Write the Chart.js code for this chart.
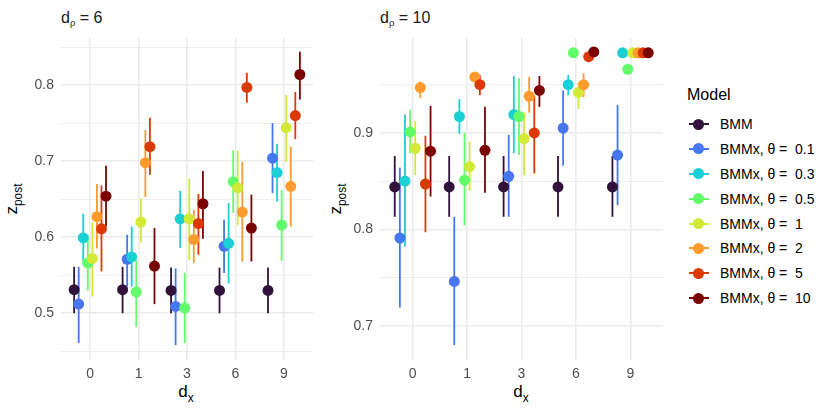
<!DOCTYPE html>
<html>
<head>
<meta charset="utf-8">
<script src="https://cdn.jsdelivr.net/npm/chart.js@4"></script>
<style>
  html, body { margin: 0; padding: 0; background: #fff; }
  body { width: 830px; height: 415px; position: relative; overflow: hidden;
         font-family: "Liberation Sans", Arial, sans-serif; }
  canvas { position: absolute; }
  .strip { position: absolute; font-size: 16px; color: #1A1A1A; line-height: 1; white-space: nowrap; }
  .strip sub { font-size: 0.6em; vertical-align: -0.3em; }
  .ytitle, .xtitle { position: absolute; font-size: 17px; color: #000; line-height: 1; white-space: nowrap; }
  .ytitle { transform: translate(-50%, -50%) rotate(-90deg); }
  .xtitle { transform: translate(-50%, -50%); }
  sub { font-size: 0.7em; vertical-align: -0.35em; }
  .legend { position: absolute; left: 687px; top: 86px; }
  .legend .title { font-size: 16px; color: #000; margin-bottom: 8px; }
  .legend .item { position: relative; height: 24.9px; font-size: 14px; color: #000; white-space: pre; }
  .legend .key { position: absolute; left: 2px; top: 11px; width: 20px; height: 2px; }
  .legend .dot { position: absolute; left: 6px; top: 6.5px; width: 11px; height: 11px; border-radius: 50%; }
  .legend .lab { position: absolute; left: 33px; top: 4px; }
</style>
</head>
<body>

<div class="strip" style="left:61px; top:10px;">d<sub>ρ</sub> = 6</div>
<div class="strip" style="left:380px; top:10px;">d<sub>ρ</sub> = 10</div>
<div class="ytitle" style="left:14px; top:199px;">z<sub>post</sub></div>
<div class="ytitle" style="left:338px; top:199px;">z<sub>post</sub></div>
<div class="xtitle" style="left:186px; top:394px;">d<sub>x</sub></div>
<div class="xtitle" style="left:521px; top:394px;">d<sub>x</sub></div>

<canvas id="panel6" width="293" height="390" style="left:20px; top:0;"></canvas>
<canvas id="panel10" width="323" height="390" style="left:340px; top:0;"></canvas>

<div class="legend" id="legend"></div>

<script>
/* ── data ── */
const xLabels = ['0', '1', '3', '6', '9'];
const models  = ['BMM', 'BMMx, θ =  0.1', 'BMMx, θ =  0.3', 'BMMx, θ =  0.5',
                 'BMMx, θ =  1', 'BMMx, θ =  2', 'BMMx, θ =  5', 'BMMx, θ =  10'];
const colors  = ['#30123B', '#4777EF', '#1BD0D5', '#62FC6B', '#D2E935', '#FE9B2D', '#DB3A07', '#7A0403'];

const yGrid6  = [0.45, 0.5, 0.55, 0.6, 0.65, 0.7, 0.75, 0.8, 0.85];
const yGrid10 = [0.7, 0.75, 0.8, 0.85, 0.9, 0.95];

/* d_rho = 6 : one row per model, one value per d_x */
const mid6 = [
  [0.531, 0.531, 0.530, 0.530, 0.530],
  [0.512, 0.571, 0.509, 0.588, 0.704],
  [0.599, 0.574, 0.624, 0.592, 0.685],
  [0.566, 0.528, 0.507, 0.673, 0.616],
  [0.572, 0.620, 0.624, 0.665, 0.744],
  [0.627, 0.698, 0.597, 0.633, 0.667],
  [0.611, 0.719, 0.618, 0.797, 0.760],
  [0.654, 0.562, 0.644, 0.612, 0.814]
];
const lo6 = [
  [0.500, 0.500, 0.500, 0.500, 0.500],
  [0.461, 0.535, 0.458, 0.553, 0.658],
  [0.566, 0.535, 0.586, 0.539, 0.647],
  [0.530, 0.482, 0.461, 0.632, 0.569],
  [0.522, 0.593, 0.570, 0.616, 0.699],
  [0.585, 0.653, 0.566, 0.568, 0.614],
  [0.555, 0.682, 0.577, 0.777, 0.729],
  [0.614, 0.512, 0.598, 0.568, 0.781]
];
const hi6 = [
  [0.561, 0.561, 0.560, 0.560, 0.560],
  [0.561, 0.603, 0.559, 0.623, 0.750],
  [0.631, 0.614, 0.661, 0.645, 0.723],
  [0.603, 0.570, 0.553, 0.714, 0.662],
  [0.620, 0.651, 0.677, 0.714, 0.787],
  [0.670, 0.741, 0.636, 0.699, 0.719],
  [0.668, 0.757, 0.657, 0.816, 0.791],
  [0.694, 0.612, 0.687, 0.656, 0.844]
];

/* d_rho = 10 */
const mid10 = [
  [0.844, 0.844, 0.844, 0.844, 0.844],
  [0.791, 0.746, 0.855, 0.905, 0.877],
  [0.850, 0.917, 0.919, 0.950, 0.983],
  [0.901, 0.851, 0.917, 0.983, 0.966],
  [0.884, 0.865, 0.894, 0.942, 0.983],
  [0.947, 0.958, 0.938, 0.950, 0.983],
  [0.847, 0.950, 0.900, 0.979, 0.983],
  [0.881, 0.882, 0.944, 0.984, 0.983]
];
const lo10 = [
  [0.813, 0.813, 0.813, 0.813, 0.813],
  [0.719, 0.680, 0.813, 0.866, 0.825],
  [0.782, 0.899, 0.879, 0.939, 0.981],
  [0.879, 0.804, 0.877, 0.981, 0.964],
  [0.856, 0.840, 0.856, 0.925, 0.981],
  [0.936, 0.953, 0.921, 0.937, 0.981],
  [0.797, 0.939, 0.858, 0.977, 0.981],
  [0.834, 0.838, 0.927, 0.982, 0.981]
];
const hi10 = [
  [0.876, 0.876, 0.876, 0.876, 0.876],
  [0.864, 0.813, 0.898, 0.944, 0.929],
  [0.919, 0.935, 0.959, 0.960, 0.985],
  [0.924, 0.900, 0.957, 0.985, 0.968],
  [0.912, 0.891, 0.921, 0.952, 0.985],
  [0.953, 0.962, 0.958, 0.962, 0.985],
  [0.897, 0.960, 0.939, 0.981, 0.985],
  [0.928, 0.927, 0.959, 0.986, 0.985]
];

const dodge = 0.094;   // spacing between models inside a d_x group

/* ── error bars drawn under the points ── */
const errorBars = {
  id: 'errorBars',
  beforeDatasetsDraw(chart) {
    const { ctx, chartArea, scales: { x, y } } = chart;
    ctx.save();
    ctx.beginPath();
    ctx.rect(chartArea.left, chartArea.top, chartArea.right - chartArea.left, chartArea.bottom - chartArea.top);
    ctx.clip();
    ctx.lineWidth = 1.8;
    ctx.lineCap = 'butt';
    chart.data.datasets.forEach(ds => {
      ctx.strokeStyle = ds.backgroundColor;
      ds.data.forEach(p => {
        const px = x.getPixelForValue(p.x);
        ctx.beginPath();
        ctx.moveTo(px, y.getPixelForValue(p.lo));
        ctx.lineTo(px, y.getPixelForValue(p.hi));
        ctx.stroke();
      });
    });
    ctx.restore();
  }
};

function buildDatasets(mid, lo, hi) {
  return models.map((name, i) => ({
    label: name,
    data: xLabels.map((_, j) => ({
      x: j + (i - 3.5) * dodge,
      y: mid[i][j], lo: lo[i][j], hi: hi[i][j]
    })),
    backgroundColor: colors[i],
    borderWidth: 0,
    pointRadius: 5.5,
    order: models.length - i
  }));
}

function makePanel(id, mid, lo, hi, yGrid, yMin, yMax, yAxisWidth) {
  const isMajor = v => Math.abs(v * 10 - Math.round(v * 10)) < 1e-6;
  new Chart(document.getElementById(id), {
    type: 'scatter',
    data: { datasets: buildDatasets(mid, lo, hi) },
    options: {
      responsive: false,
      animation: false,
      devicePixelRatio: 1,
      layout: { padding: { top: 38, left: 0, right: 0, bottom: 0 }, autoPadding: false },
      plugins: { legend: { display: false }, tooltip: { enabled: false } },
      scales: {
        x: {
          type: 'linear',
          min: -0.6, max: 4.6,
          afterBuildTicks: s => { s.ticks = xLabels.map((_, i) => ({ value: i })); },
          afterFit: s => { s.height = 30; },
          grid: { color: '#EBEBEB', lineWidth: 1.5, drawTicks: false },
          border: { display: false },
          ticks: {
            autoSkip: false, maxRotation: 0, padding: 6,
            color: '#4D4D4D', font: { family: 'Liberation Sans', size: 14 },
            callback: v => xLabels[v]
          }
        },
        y: {
          min: yMin, max: yMax,
          afterBuildTicks: s => { s.ticks = yGrid.map(v => ({ value: v })); },
          afterFit: s => { s.width = yAxisWidth; },
          grid: {
            color: '#EBEBEB', drawTicks: false,
            lineWidth: c => isMajor(c.tick.value) ? 1.5 : 0.9
          },
          border: { display: false },
          ticks: {
            autoSkip: false, padding: 7,
            color: '#4D4D4D', font: { family: 'Liberation Sans', size: 14 },
            callback: v => isMajor(v) ? v.toFixed(1) : ''
          }
        }
      }
    },
    plugins: [errorBars]
  });
}

makePanel('panel6', mid6, lo6, hi6, yGrid6, 0.4385, 0.862, 41);
makePanel('panel10', mid10, lo10, hi10, yGrid10, 0.6645, 0.9984, 40);

/* ── legend ── */
const legend = document.getElementById('legend');
legend.innerHTML = '<div class="title">Model</div>' + models.map((m, i) =>
  `<div class="item"><div class="key" style="background:${colors[i]}"></div>` +
  `<div class="dot" style="background:${colors[i]}"></div><div class="lab">${m}</div></div>`
).join('');
</script>
</body>
</html>
